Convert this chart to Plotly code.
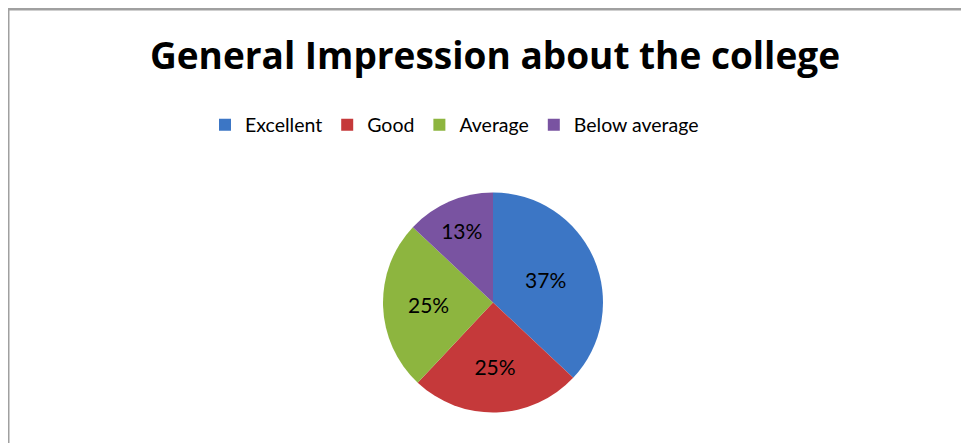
import plotly.graph_objects as go

categories = ["Excellent", "Good", "Average", "Below average"]
values = [37, 25, 25, 13]
colors = ["#3C76C5", "#C5393A", "#8DB53F", "#7953A1"]

W, H = 969, 443
OFF = 8  # page offset of the plot div inside the browser window


def px(x):
    return (x - OFF) / W


def py(y):
    return 1 - (y - OFF) / H


fig = go.Figure(go.Pie(
    labels=categories,
    values=values,
    sort=False,
    direction="clockwise",
    rotation=0,
    marker=dict(colors=colors, line=dict(width=0)),
    textinfo="percent",
    textposition="inside",
    insidetextorientation="horizontal",
    textfont=dict(family="Lato", size=21, color="#000000"),
    domain=dict(x=[px(383), px(603)], y=[py(413), py(192)]),
    hoverinfo="label+percent",
))

fig.update_layout(
    width=W, height=H,
    margin=dict(l=0, r=0, t=0, b=0),
    paper_bgcolor="#FFFFFF",
    plot_bgcolor="#FFFFFF",
    title=dict(
        text="<b>General Impression about the college</b>",
        font=dict(family="Open Sans", size=37, color="#000000"),
        x=px(495), xanchor="center",
        y=py(56), yanchor="middle",
    ),
    legend=dict(
        orientation="h",
        x=px(205), xanchor="left",
        y=py(125), yanchor="middle",
        font=dict(family="Lato", size=19.5, color="#000000"),
        traceorder="normal",
    ),
    shapes=[
        dict(type="line", xref="paper", yref="paper",
             x0=0, x1=1, y0=py(9), y1=py(9),
             line=dict(color="#A0A0A0", width=3)),
        dict(type="line", xref="paper", yref="paper",
             x0=0, x1=0, y0=0, y1=py(9),
             line=dict(color="#A0A0A0", width=3)),
    ],
)

fig.write_html("out.html")
